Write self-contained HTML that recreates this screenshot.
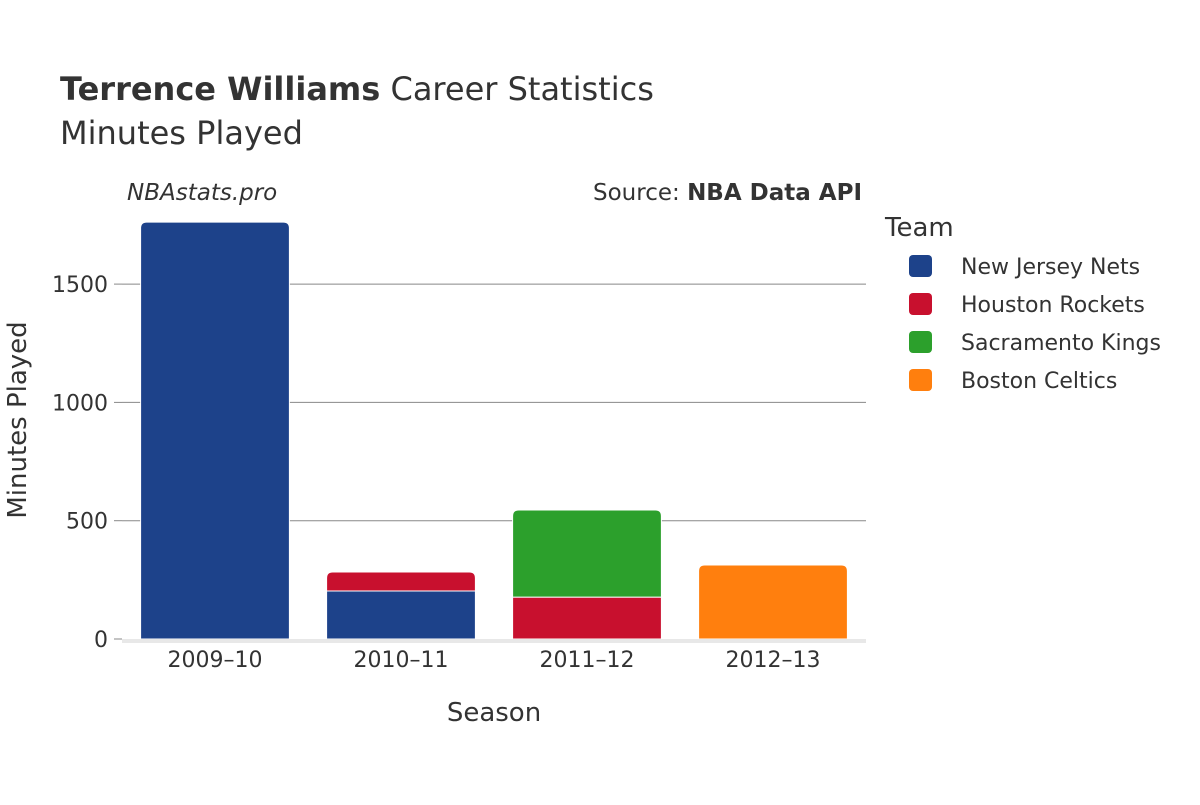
<!DOCTYPE html>
<html><head><meta charset="utf-8"><style>
body{margin:0;background:#fff;font-family:"Liberation Sans","DejaVu Sans",sans-serif;}
svg text{font-family:"DejaVu Sans","Liberation Sans",sans-serif;fill:#333;}
</style></head><body>
<svg id="chart" width="1200" height="800" xmlns="http://www.w3.org/2000/svg">
<rect width="1200" height="800" fill="#fff"/>
<text x="60" y="100" font-size="32"><tspan font-weight="bold">Terrence Williams</tspan> Career Statistics</text>
<text x="60" y="144" font-size="32">Minutes Played</text>
<text x="127" y="200" font-size="23" font-style="italic">NBAstats.pro</text>
<text x="862" y="200" font-size="23" text-anchor="end">Source: <tspan font-weight="bold">NBA Data API</tspan></text>
<g id="grid"></g>
<g id="bars"></g>
<g id="axes"></g>
<text x="494" y="721" font-size="26" text-anchor="middle">Season</text>
<text transform="translate(26,420) rotate(-90)" font-size="26" text-anchor="middle">Minutes Played</text>
<g id="legend">
<text x="885" y="236" font-size="26">Team</text>
</g>
</svg>
<script>
const seasons = ["2009–10","2010–11","2011–12","2012–13"];
const teams = ["New Jersey Nets","Houston Rockets","Sacramento Kings","Boston Celtics"];
const colors = ["#1d428a","#c8102e","#2ca02c","#ff7f0e"];
const netsMin = [1762,203,0,0];
const rocketsMin = [0,80,177,0];
const kingsMin = [0,0,368,0];
const celticsMin = [0,0,0,313];
const yTicks = [0,500,1000,1500];
const series = [netsMin,rocketsMin,kingsMin,celticsMin];
const NS="http://www.w3.org/2000/svg";
const x0=122,x1=866,yBase=639,pxPerUnit=118.3/500;
const band=(x1-x0)/seasons.length, bw=band*0.8;
function y(v){return yBase-v*pxPerUnit;}
function xs(i){return x0+band*i+(band-bw)/2;}
function mk(tag,attrs,parent){const e=document.createElementNS(NS,tag);for(const k in attrs)e.setAttribute(k,attrs[k]);parent.appendChild(e);return e;}
const grid=document.getElementById('grid'),bars=document.getElementById('bars'),axes=document.getElementById('axes'),legend=document.getElementById('legend');
yTicks.forEach(t=>{
  if(t>0){const l=mk('line',{x1:x0,x2:x1,y1:y(t),y2:y(t),stroke:'#888','stroke-width':1},grid);
  
  }
  const tk=mk('line',{x1:x0-8,x2:x0,y1:y(t),y2:y(t),stroke:'#888'},axes);
  
  
  const tx=mk('text',{x:x0-4-8+4-6,y:y(t)+8,'font-size':22,'text-anchor':'end'},axes);
  tx.textContent=t;
  
  
});
const base=mk('rect',{x:x0,y:yBase,width:x1-x0,height:4,fill:'#e8e8e8'},axes);


seasons.forEach((s,i)=>{
  let cum=0;
  const tops=series.map(a=>a[i]);
  let lastIdx=-1;tops.forEach((v,k)=>{if(v>0)lastIdx=k;});
  series.forEach((arr,k)=>{
    const v=arr[i]; if(!v) return;
    const yt=y(cum+v), yb=y(cum); const x=xs(i);
    let d;
    if(k===lastIdx){const r=6;d=`M${x},${yb}V${yt+r}Q${x},${yt} ${x+r},${yt}H${x+bw-r}Q${x+bw},${yt} ${x+bw},${yt+r}V${yb}Z`;}
    else d=`M${x},${yb}V${yt}H${x+bw}V${yb}Z`;
    const p=mk('path',{d:d,fill:colors[k],stroke:'#fff','stroke-width':1},bars);
    
    
    cum+=v;
  });
  const lb=mk('text',{x:xs(i)+bw/2,y:667,'font-size':22,'text-anchor':'middle'},axes);
  lb.textContent=s;
  
  
});
teams.forEach((t,k)=>{
  const yy=266+k*38;
  const r=mk('rect',{x:909,y:yy-11,width:23,height:22,rx:4,fill:colors[k]},legend);
  
  
  const tx=mk('text',{x:961,y:yy+8,'font-size':22},legend);
  tx.textContent=t;
  
  
});
</script>
</body></html>
